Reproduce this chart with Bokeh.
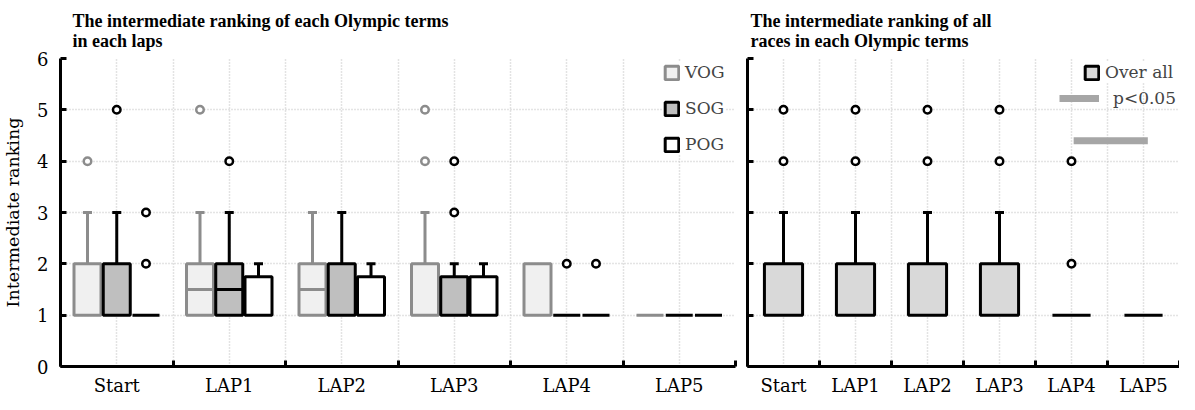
from bokeh.plotting import figure
from bokeh.models import FixedTicker, Range1d, Legend, LegendItem, ColumnDataSource
from bokeh.layouts import row
from bokeh.embed import file_html
from bokeh.resources import INLINE

# ---------------- data ----------------
laps = ["Start", "LAP1", "LAP2", "LAP3", "LAP4", "LAP5"]
terms = ["VOG", "SOG", "POG"]

# left panel: box statistics per lap (q1, median, q3, upper whisker) and outliers
vog_q1 = [1, 1, 1, 1, 1, 1]
vog_med = [1, 1.5, 1.5, 1, 1, 1]
vog_q3 = [2, 2, 2, 2, 2, 1]
vog_hi = [3, 3, 3, 3, 2, 1]
vog_out = [[4], [5], [], [4, 5], [], []]

sog_q1 = [1, 1, 1, 1, 1, 1]
sog_med = [1, 1.5, 1, 1, 1, 1]
sog_q3 = [2, 2, 2, 1.75, 1, 1]
sog_hi = [3, 3, 3, 2, 1, 1]
sog_out = [[5], [4], [], [3, 4], [2], []]

pog_q1 = [1, 1, 1, 1, 1, 1]
pog_med = [1, 1, 1, 1, 1, 1]
pog_q3 = [1, 1.75, 1.75, 1.75, 1, 1]
pog_hi = [1, 2, 2, 2, 1, 1]
pog_out = [[2, 3], [], [], [], [2], []]

# right panel: all races
all_q1 = [1, 1, 1, 1, 1, 1]
all_med = [1, 1, 1, 1, 1, 1]
all_q3 = [2, 2, 2, 2, 1, 1]
all_hi = [3, 3, 3, 3, 1, 1]
all_out = [[4, 5], [4, 5], [4, 5], [4, 5], [2, 4], []]

# significant difference (p<0.05) between laps
sig_from = ["LAP4"]
sig_to = ["LAP5"]
sig_level = [4.4]

y_ticks = [0, 1, 2, 3, 4, 5, 6]

# ---------------- style ----------------
SERIF = "DejaVu Serif"
TITLE_FONT = "Liberation Serif"
GRID_COLOR = "#c8c8c8"
FRAME_H = 308
RIGHT_W = 432

styles = {
    "VOG": dict(line="#8c8c8c", fill="#f0f0f0"),
    "SOG": dict(line="black", fill="#bfbfbf"),
    "POG": dict(line="black", fill="white"),
    "ALL": dict(line="black", fill="#d9d9d9"),
}


def style_fig(p, ngroups, show_ylabels):
    p.outline_line_color = None
    p.background_fill_color = "white"
    p.border_fill_color = "white"
    centers = [i + 0.5 for i in range(ngroups)]
    seps = [float(i) for i in range(ngroups + 1)]
    xa = p.xaxis[0]
    xa.ticker = FixedTicker(ticks=centers, minor_ticks=seps)
    xa.major_label_overrides = {c: laps[i] for i, c in enumerate(centers)}
    xa.major_tick_line_color = None
    xa.major_tick_in = 0
    xa.major_tick_out = 0
    xa.minor_tick_in = 6
    xa.minor_tick_out = 0
    xa.minor_tick_line_width = 3
    xa.minor_tick_line_color = "black"
    xa.axis_line_width = 3
    xa.axis_line_color = "black"
    xa.axis_label = None
    xa.axis_label_standoff = 0
    xa.major_label_text_font = SERIF
    xa.major_label_text_font_size = "18px"
    xa.major_label_text_color = "black"
    xa.major_label_standoff = 8
    ya = p.yaxis[0]
    ya.ticker = FixedTicker(ticks=y_ticks, minor_ticks=[])
    ya.major_tick_in = 6
    ya.major_tick_out = 0
    ya.major_tick_line_width = 3
    ya.major_tick_line_color = "black"
    ya.axis_line_width = 3
    ya.axis_line_color = "black"
    ya.major_label_text_font = SERIF
    ya.major_label_text_font_size = "18px"
    ya.major_label_text_color = "black" if show_ylabels else None
    ya.major_label_standoff = 12 if show_ylabels else 0
    p.xgrid[0].ticker = FixedTicker(ticks=sorted(centers + seps))
    p.ygrid[0].ticker = FixedTicker(ticks=y_ticks)
    for g in (p.xgrid[0], p.ygrid[0]):
        g.grid_line_color = GRID_COLOR
        g.grid_line_dash = "1 2"
        g.grid_line_width = 1.5
    p.title.text_font = TITLE_FONT
    p.title.text_font_style = "bold"
    p.title.text_font_size = "18px"
    p.title.text_color = "black"
    p.title.align = "left"
    p.title.standoff = 16


def draw_boxes(p, xs, width, q1, med, q3, hi, outs, st):
    lc, fc = st["line"], st["fill"]
    keep = [i for i in range(len(xs)) if hi[i] > q3[i]]
    wsrc = ColumnDataSource(dict(x=[xs[i] for i in keep],
                                 y0=[q3[i] for i in keep],
                                 y1=[hi[i] for i in keep]))
    p.segment(x0="x", y0="y0", x1="x", y1="y1", source=wsrc,
              line_color=lc, line_width=3)
    p.scatter(x="x", y="y1", source=wsrc, marker="dash", size=9,
              line_color=lc, line_width=3)
    bsrc = ColumnDataSource(dict(x=xs, bottom=q1, top=q3))
    box = p.vbar(x="x", width=width, bottom="bottom", top="top", source=bsrc,
                 fill_color=fc, line_color=lc, line_width=3)
    mk = [i for i in range(len(xs)) if q1[i] < med[i] < q3[i]]
    msrc = ColumnDataSource(dict(x0=[xs[i] - width / 2 for i in mk],
                                 x1=[xs[i] + width / 2 for i in mk],
                                 y=[med[i] for i in mk]))
    p.segment(x0="x0", y0="y", x1="x1", y1="y", source=msrc,
              line_color=lc, line_width=3)
    ox, oy = [], []
    for x, o in zip(xs, outs):
        for v in o:
            ox.append(x)
            oy.append(v)
    p.scatter(x=ox, y=oy, marker="circle", size=7.5, fill_color="white",
              line_color=lc, line_width=2.5)
    return box


# ---------------- left panel ----------------
left = figure(frame_width=675, frame_height=FRAME_H, output_backend="svg",
              toolbar_location=None,
              x_range=Range1d(0, 6), y_range=Range1d(0, 6),
              min_border_left=60, min_border_right=6, min_border_top=10,
              min_border_bottom=10,
              title="The intermediate ranking of each Olympic terms\n in each laps")
style_fig(left, 6, True)
left.title.offset = 12
left.yaxis[0].axis_label = "Intermediate ranking"
left.yaxis[0].axis_label_text_font = SERIF
left.yaxis[0].axis_label_text_font_size = "17.5px"
left.yaxis[0].axis_label_text_font_style = "normal"
left.yaxis[0].axis_label_text_color = "black"
left.yaxis[0].axis_label_standoff = 11

offsets = {"VOG": -0.26, "SOG": 0.0, "POG": 0.26}
bw = 0.24
data_left = {
    "VOG": (vog_q1, vog_med, vog_q3, vog_hi, vog_out),
    "SOG": (sog_q1, sog_med, sog_q3, sog_hi, sog_out),
    "POG": (pog_q1, pog_med, pog_q3, pog_hi, pog_out),
}
box_r = {}
for t in terms:
    q1, med, q3, hi, outs = data_left[t]
    xs = [i + 0.5 + offsets[t] for i in range(len(laps))]
    box_r[t] = draw_boxes(left, xs, bw, q1, med, q3, hi, outs, styles[t])

leg_left = Legend(items=[LegendItem(label=t, renderers=[box_r[t]]) for t in terms],
                  location=(603, FRAME_H - 4 - 92), orientation="vertical",
                  glyph_width=17, glyph_height=17, label_height=16,
                  spacing=16, padding=0, margin=0, label_standoff=5,
                  border_line_color=None, background_fill_color="white",
                  background_fill_alpha=1,
                  label_text_font=SERIF, label_text_font_size="17px")
left.add_layout(leg_left)

# ---------------- right panel ----------------
right = figure(frame_width=RIGHT_W, frame_height=FRAME_H, output_backend="svg",
               toolbar_location=None,
               x_range=Range1d(0, 6), y_range=Range1d(0, 6),
               min_border_left=6, min_border_right=0, min_border_top=10,
               min_border_bottom=10,
               title="The intermediate ranking of all\nraces in each Olympic terms")
style_fig(right, 6, False)
right.title.offset = 3

xs_all = [i + 0.5 for i in range(len(laps))]
all_box = draw_boxes(right, xs_all, 0.53, all_q1, all_med, all_q3, all_hi, all_out,
                     styles["ALL"])

sig_src = ColumnDataSource(dict(x0=[laps.index(a) + 0.53 for a in sig_from],
                                x1=[laps.index(b) + 0.56 for b in sig_to],
                                y=sig_level))
sig_r = right.segment(x0="x0", y0="y", x1="x1", y1="y", source=sig_src,
                      line_color="#a6a6a6", line_width=7, line_cap="butt")

leg_r1 = Legend(items=[LegendItem(label="Over all", renderers=[all_box])],
                location=(336, FRAME_H - 4 - 20), glyph_width=17, glyph_height=17,
                label_height=16, padding=0, margin=0, label_standoff=5,
                border_line_color=None, background_fill_color="white",
                background_fill_alpha=1,
                label_text_font=SERIF, label_text_font_size="17px")
leg_r2 = Legend(items=[LegendItem(label="p<0.05", renderers=[sig_r])],
                location=(312, FRAME_H - 30 - 20), glyph_width=40, glyph_height=16,
                label_height=16, padding=0, margin=0, label_standoff=14,
                border_line_color=None, background_fill_alpha=0,
                label_text_font=SERIF, label_text_font_size="17px")
right.add_layout(leg_r1)
right.add_layout(leg_r2)

layout = row(left, right, spacing=0)
open("out.html", "w").write(file_html(layout, INLINE))
